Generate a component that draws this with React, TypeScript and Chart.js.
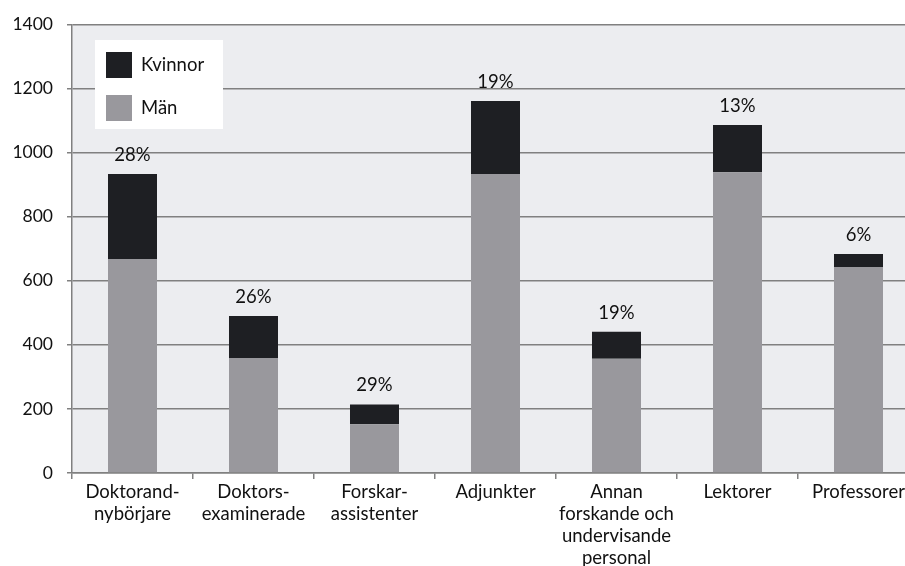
import React, { useEffect, useRef } from "react";
import { Chart, registerables } from "chart.js";

Chart.register(...registerables);

const categories: (string | string[])[] = [
  ["Doktorand-", "nybörjare"],
  ["Doktors-", "examinerade"],
  ["Forskar-", "assistenter"],
  "Adjunkter",
  ["Annan", "forskande och", "undervisande", "personal"],
  "Lektorer",
  "Professorer",
];

const manValues = [668, 359, 152, 933, 357, 939, 643];
const kvinnorValues = [265, 131, 62, 228, 84, 147, 41];
const percentLabels = ["28%", "26%", "29%", "19%", "19%", "13%", "6%"];

const FONT = "Lato, 'Open Sans', sans-serif";
const DARK = "#1e1f23";
const GRAY = "#99989d";
const PLOT_BG = "#ecedf0";
const GRID = "#808080";

const bgPlugin = {
  id: "plotBg",
  beforeDraw(chart: any) {
    const { ctx, chartArea } = chart;
    ctx.save();
    ctx.fillStyle = PLOT_BG;
    ctx.fillRect(chartArea.left, chartArea.top, chartArea.right - chartArea.left, chartArea.bottom - chartArea.top);
    ctx.restore();
  },
};

const percentPlugin = {
  id: "percentLabels",
  afterDatasetsDraw(chart: any) {
    const { ctx } = chart;
    const meta = chart.getDatasetMeta(chart.data.datasets.length - 1);
    ctx.save();
    ctx.font = `18.5px ${FONT}`;
    ctx.fillStyle = "#111";
    ctx.textAlign = "center";
    ctx.textBaseline = "alphabetic";
    meta.data.forEach((el: any, i: number) => {
      ctx.fillText(percentLabels[i], el.x, el.y - 13);
    });
    ctx.restore();
  },
};

const legendPlugin = {
  id: "boxLegend",
  afterDraw(chart: any) {
    const { ctx } = chart;
    const ds = chart.data.datasets.slice().reverse();
    const bx = 95, by = 40, bw = 128, bh = 89;
    ctx.save();
    ctx.fillStyle = "#ffffff";
    ctx.fillRect(bx, by, bw, bh);
    ds.forEach((d: any, i: number) => {
      const sy = 52 + i * 43;
      ctx.fillStyle = d.backgroundColor;
      ctx.fillRect(106, sy, 26, 26);
      ctx.fillStyle = "#111";
      ctx.font = `18.5px ${FONT}`;
      ctx.textAlign = "left";
      ctx.textBaseline = "middle";
      ctx.fillText(d.label, 141, sy + 13);
    });
    ctx.restore();
  },
};

export default function App() {
  const ref = useRef<HTMLCanvasElement>(null);
  useEffect(() => {
    if (!ref.current) return;
    const chart = new Chart(ref.current, {
      type: "bar",
      data: {
        labels: categories,
        datasets: [
          { label: "Män", data: manValues, backgroundColor: GRAY, barPercentage: 0.405, categoryPercentage: 1 },
          { label: "Kvinnor", data: kvinnorValues, backgroundColor: DARK, barPercentage: 0.405, categoryPercentage: 1 },
        ],
      },
      options: {
        animation: false,
        responsive: false,
        layout: { padding: { top: 23, right: 1, left: 0, bottom: 0 } },
        plugins: { legend: { display: false }, tooltip: { enabled: false } },
        scales: {
          x: {
            stacked: true,
            offset: true,
            grid: { display: true, drawOnChartArea: false, drawTicks: true, tickLength: 6, color: GRID, lineWidth: 1.5, offset: true },
            border: { display: true, color: GRID, width: 1.5 },
            ticks: {
              color: "#111",
              font: { family: FONT, size: 18.5, lineHeight: 1.19 },
              maxRotation: 0,
              minRotation: 0,
              autoSkip: false,
              padding: 2,
            },
            afterFit(scale: any) {
              scale.height = 93;
            },
          },
          y: {
            stacked: true,
            min: 0,
            max: 1400,
            ticks: {
              stepSize: 200,
              color: "#111",
              font: { family: FONT, size: 17.5 },
              padding: 14,
              callback: (v: any) => String(v),
            },
            grid: { color: GRID, lineWidth: 1.5, tickLength: 5, drawTicks: true },
            border: { display: true, color: GRID, width: 1.5 },
            afterFit(scale: any) {
              scale.width = 72;
            },
          },
        },
      },
      plugins: [bgPlugin, percentPlugin, legendPlugin],
    });
    return () => chart.destroy();
  }, []);
  return (
    <div style={{ position: "fixed", left: 0, top: 0, width: 905, height: 566, overflow: "hidden", background: "#fff" }}>
      <canvas ref={ref} width={920} height={566} style={{ display: "block", width: 920, height: 566 }} />
    </div>
  );
}
